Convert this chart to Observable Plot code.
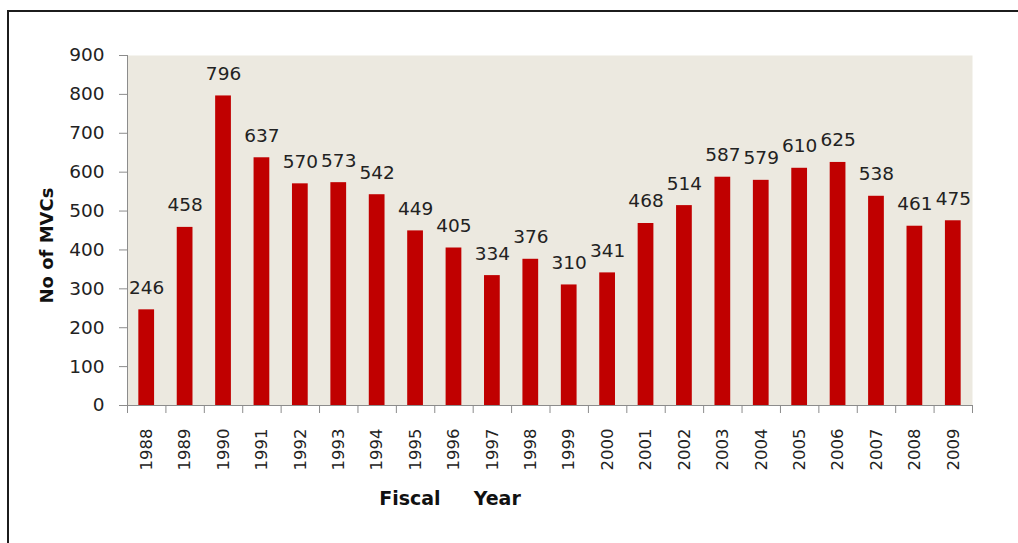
<!DOCTYPE html>
<html><head><meta charset="utf-8">
<script src="https://cdn.jsdelivr.net/npm/d3@7"></script>
<script src="https://cdn.jsdelivr.net/npm/@observablehq/plot@0.6"></script>
<style>
html,body{margin:0;padding:0;background:#fff;width:1018px;height:543px;overflow:hidden;}
#frame{position:absolute;left:7px;top:10px;width:1100px;height:600px;border-left:2px solid #1c1c1c;border-top:2px solid #1c1c1c;}
#chart{position:absolute;left:0;top:0;}
#chart svg text{white-space:pre;}
</style></head><body>
<div id="frame"></div><div id="chart"></div>
<script>
const years = ["1988","1989","1990","1991","1992","1993","1994","1995","1996","1997","1998","1999","2000","2001","2002","2003","2004","2005","2006","2007","2008","2009"];
const mvcs = [246,458,796,637,570,573,542,449,405,334,376,310,341,468,514,587,579,610,625,538,461,475];
const yTicks = [0,100,200,300,400,500,600,700,800,900];
const yLabel = "No of MVCs";
const xLabel = "Fiscal     Year";

const data = years.map((year, i) => ({year, value: mvcs[i]}));
const W = 1018, H = 543, mL = 127, mR = 46, mT = 55, mB = 138;
const step = (W - mL - mR) / years.length;
const axisGray = "#8c8c8c";
const textCol = "#222";

const chart = Plot.plot({
  width: W, height: H,
  marginLeft: mL, marginRight: mR, marginTop: mT, marginBottom: mB,
  style: {fontFamily: "DejaVu Sans", fontSize: "18.5px", color: textCol, background: "transparent", overflow: "visible"},
  x: {domain: years, paddingInner: 0.59, paddingOuter: 0.295, round: false, axis: null},
  y: {domain: [0, 900], axis: null},
  marks: [
    Plot.frame({fill: "#ECE9E0", stroke: null}),
    Plot.barY(data, {x: "year", y: "value", fill: "#C00000"}),
    Plot.ruleY([0], {stroke: axisGray}),
    Plot.frame({anchor: "left", stroke: axisGray}),
    Plot.axisY(yTicks, {tickSize: 8, tickPadding: 15, stroke: axisGray, fill: textCol, fontSize: 18.5, label: null}),
    Plot.axisX({tickSize: 8, tickFormat: () => "", dx: -step / 2, stroke: axisGray, label: null}),
    Plot.axisX([years[years.length - 1]], {tickSize: 8, tickFormat: () => "", dx: step / 2, stroke: axisGray, label: null}),
    Plot.axisX({tickSize: 0, tickPadding: 23, tickRotate: -90, fontSize: 16.5, fill: textCol, label: null}),
    Plot.text(data, {x: "year", y: "value", text: d => String(d.value), dy: -22, fontSize: 18.5, fill: textCol}),
    Plot.text([yLabel], {frameAnchor: "left", rotate: -90, textAnchor: "middle", lineAnchor: "middle", dx: -80, dy: 15, fontWeight: "bold", fontSize: 18, fill: "#111"}),
    Plot.text([xLabel], {frameAnchor: "bottom", textAnchor: "middle", lineAnchor: "middle", dx: -100, dy: 93, fontWeight: "bold", fontSize: 19, fill: "#111"})
  ]
});
document.getElementById("chart").appendChild(chart);
</script>
</body></html>
